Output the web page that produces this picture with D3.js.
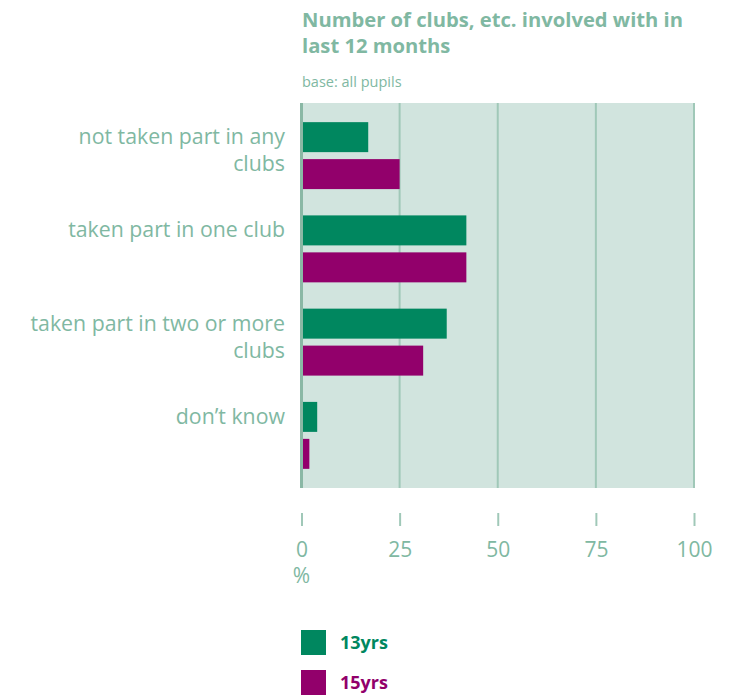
<!DOCTYPE html>
<html><head><meta charset="utf-8">
<script src="https://cdn.jsdelivr.net/npm/d3@7"></script>
<style>body{margin:0;background:#fff;}svg{display:block;font-family:"Open Sans",sans-serif;}</style>
</head><body><div id="chart"></div>
<script>
const categories = [["not taken part in any","clubs"],["taken part in one club"],["taken part in two or more","clubs"],["don\u2019t know"]];
const categoryKeys = ["none","one","twoPlus","dontKnow"];
const seriesNames = ["13yrs","15yrs"];
const values13 = [17, 42, 37, 4];
const values15 = [25, 42, 31, 2];
const xTicks = [0, 25, 50, 75, 100];
const colors = ["#00875f", "#92006b"];

const W = 738, H = 696;
const svg = d3.select("#chart").append("svg").attr("width", W).attr("height", H);
const textCol = "#80b8a2", gridCol = "#a0c8b8";

const x = d3.scaleLinear().domain([0, 100]).range([301.5, 694]);
const y0 = d3.scaleBand().domain(categoryKeys).range([109, 482]).paddingInner(0.282).paddingOuter(0.141);
const y1 = d3.scaleBand().domain(seriesNames).range([0, y0.bandwidth()]).paddingInner(0.189);

// title
svg.append("text").attr("x", 302).attr("y", 27).attr("fill", textCol).attr("font-weight", "bold").attr("font-size", 20.2).text("Number of clubs, etc. involved with in");
svg.append("text").attr("x", 302).attr("y", 53).attr("fill", textCol).attr("font-weight", "bold").attr("font-size", 20.2).text("last 12 months");
svg.append("text").attr("x", 302).attr("y", 87).attr("fill", textCol).attr("font-size", 14.5).text("base: all pupils");

// background
svg.append("rect").attr("x", x(0)).attr("y", 103).attr("width", x(100) - x(0) + 1).attr("height", 385).attr("fill", "#d1e4de");

// gridlines
svg.append("g").selectAll("line").data(xTicks.slice(1)).join("line")
  .attr("x1", d => x(d)).attr("x2", d => x(d)).attr("y1", 103).attr("y2", 488)
  .attr("stroke", gridCol).attr("stroke-width", 2);

// bars
const data = categoryKeys.map((k, i) => ({key: k, vals: [values13[i], values15[i]]}));
const g = svg.append("g").selectAll("g").data(data).join("g").attr("transform", d => `translate(0,${y0(d.key)})`);
g.selectAll("rect").data(d => d.vals.map((v, j) => ({v, s: seriesNames[j], j}))).join("rect")
  .attr("x", x(0) + 1).attr("y", d => y1(d.s)).attr("height", y1.bandwidth())
  .attr("width", d => x(d.v) - x(0) - 1).attr("fill", d => colors[d.j]);

// zero line
svg.append("line").attr("x1", x(0)).attr("x2", x(0)).attr("y1", 103).attr("y2", 488).attr("stroke", "#8ab8a5").attr("stroke-width", 3);

// category labels
categories.forEach((lines, i) => {
  const t = svg.append("text").attr("fill", textCol).attr("font-size", 21.3).attr("text-anchor", "end");
  lines.forEach((ln, k) => t.append("tspan").attr("x", 285).attr("y", y0(categoryKeys[i]) + 22 + k * 27).text(ln));
});

// x axis
const axis = d3.axisBottom(x).tickValues(xTicks).tickSize(13).tickPadding(12).tickFormat(d3.format("d"));
const ax = svg.append("g").attr("transform", "translate(0,513)").call(axis);
ax.select(".domain").remove();
ax.selectAll(".tick line").attr("stroke", gridCol).attr("stroke-width", 2);
ax.selectAll(".tick text").attr("fill", textCol).attr("font-size", 21).attr("font-family", "Open Sans, sans-serif").attr("dy", "0.9em");
svg.append("text").attr("x", x(0)).attr("y", 583).attr("text-anchor", "middle").attr("fill", textCol).attr("font-size", 21).text("%");

// legend
const lg = svg.append("g").selectAll("g").data(seriesNames).join("g").attr("transform", (d, i) => `translate(301,${630 + i * 40})`);
lg.append("rect").attr("width", 25).attr("height", 25).attr("fill", (d, i) => colors[i]);
lg.append("text").attr("x", 39).attr("y", 19).attr("font-weight", "bold").attr("font-size", 18).attr("fill", (d, i) => colors[i]).text(d => d);
</script></body></html>
